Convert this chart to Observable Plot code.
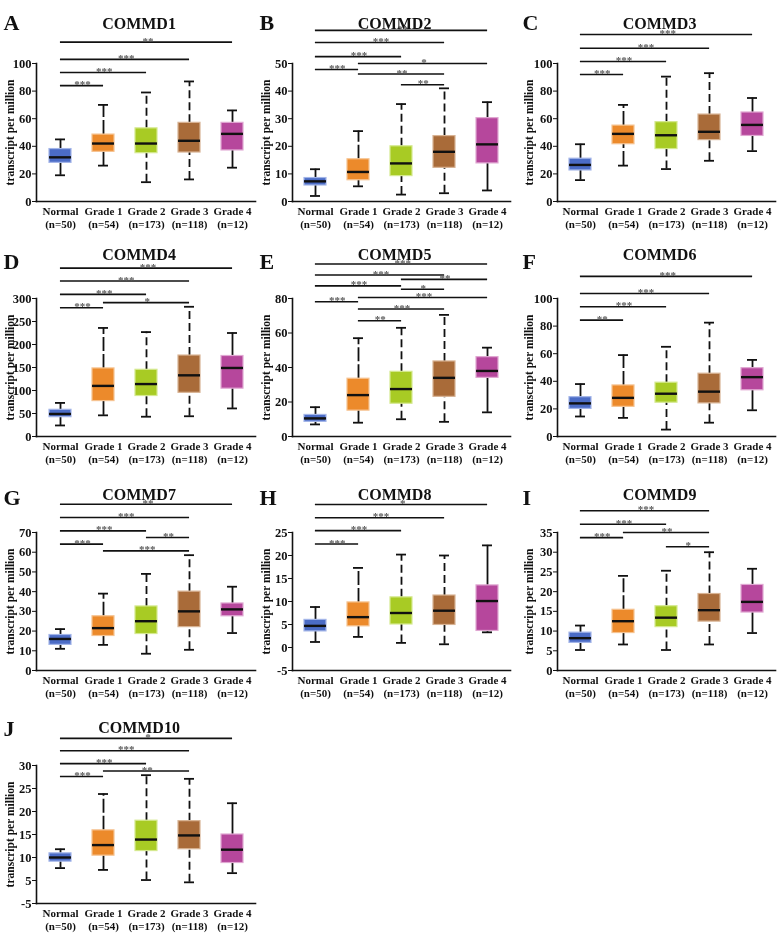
<!DOCTYPE html>
<html><head><meta charset="utf-8">
<script src="https://cdn.jsdelivr.net/npm/d3@7"></script>
<script src="https://cdn.jsdelivr.net/npm/@observablehq/plot@0.6"></script>
<style>
body{margin:0;background:#fff;}
#fig{position:relative;width:778px;height:934px;overflow:hidden;background:#fff;}
.panel{position:absolute;will-change:transform;}
</style></head><body><div id="fig"></div>
<script>
// ---------- data ----------
const groups = ["Normal", "Grade 1", "Grade 2", "Grade 3", "Grade 4"];
const groupN = ["(n=50)", "(n=54)", "(n=173)", "(n=118)", "(n=12)"];
const genes = ["COMMD1","COMMD2","COMMD3","COMMD4","COMMD5","COMMD6","COMMD7","COMMD8","COMMD9","COMMD10"];
const letters = ["A","B","C","D","E","F","G","H","I","J"];

// [min, q1, median, q3, max] per group
const COMMD1 = [[19,28,32,38,45],[26,36,42,48.5,70],[14,35,42,53,79],[16,35.5,44,57,87],[24.5,37,49,57,66]];
const COMMD2 = [[2,5.8,7.3,8.5,11.7],[5.5,7.7,10.7,15.3,25.5],[2.5,9.2,13.8,20,35.3],[3,12.2,18,23.7,41],[4,13.8,20.7,30.2,36]];
const COMMD3 = [[15.5,22.5,26.5,31,41.5],[26,41.5,49,55,70],[23.5,38,48,57.5,90.5],[29.5,44.5,50.5,63,93],[36.5,47.5,55.5,64.5,75]];
const COMMD4 = [[24,42,49,58,73],[46,77,110,148,236],[43,88,114,145,227],[44,95,133,176,282],[61,104,149,175,225]];
const COMMD5 = [[7,8.5,10.5,12.5,17],[8,15,24,33.5,57],[10,19,27.5,37.5,63],[8.5,23,34,43.5,70.5],[14,34,38,46,51.5]];
const COMMD6 = [[14.5,20,24,28.5,38],[13.5,21.5,28,37,59],[5,24.5,31,39,65],[10,24,32.5,45.5,82.5],[19,33.5,43,49.5,55.5]];
const COMMD7 = [[11,13,16,18,21],[13,17.5,21.5,27.5,39],[8.5,18.5,25,32.5,49],[10.5,22,30,40,58.5],[19,27.5,31,34,42.5]];
const COMMD8 = [[1.2,3.5,4.7,6,8.8],[2.3,4.6,6.6,9.8,17.3],[1,5,7.5,10.9,20.2],[0.7,4.9,8,11.3,20],[3.3,3.6,10.1,13.5,22.2]];
const COMMD9 = [[5.2,7,8.2,9.6,11.4],[6.6,9.5,12.5,15.4,24],[5.2,11,13.4,16.3,25.3],[6.6,12.4,15.3,19.4,30],[9.5,14.7,17.4,21.7,25.8]];
const COMMD10 = [[7.7,9.1,10,10.9,11.8],[7.3,10.4,12.7,15.9,23.8],[5.1,11.4,13.9,18,27.9],[4.6,11.8,14.8,17.9,27.1],[6.6,8.8,11.7,15,21.8]];

// significance comparisons: [from, to, level (data units), label]
const COMMD1_sig = [["Normal","Grade 1",84,"***"],["Normal","Grade 2",93.5,"***"],["Normal","Grade 3",103,"***"],["Normal","Grade 4",115.5,"**"]];
const COMMD2_sig = [["Normal","Grade 4",62,"**"],["Normal","Grade 3",57.6,"***"],["Normal","Grade 2",52.5,"***"],["Grade 1","Grade 4",50,"*"],["Normal","Grade 1",47.8,"***"],["Grade 1","Grade 3",46.2,"**"],["Grade 2","Grade 3",42.3,"**"]];
const COMMD3_sig = [["Normal","Grade 4",121,"***"],["Normal","Grade 3",111,"***"],["Normal","Grade 2",101.5,"***"],["Normal","Grade 1",92,"***"]];
const COMMD4_sig = [["Normal","Grade 4",366,"***"],["Normal","Grade 3",338,"***"],["Normal","Grade 2",309,"***"],["Grade 1","Grade 3",291,"*"],["Normal","Grade 1",280,"***"]];
const COMMD5_sig = [["Normal","Grade 4",100,"***"],["Normal","Grade 3",93.6,"***"],["Grade 2","Grade 4",91.1,"**"],["Normal","Grade 2",87.3,"***"],["Grade 2","Grade 3",85.4,"*"],["Grade 1","Grade 4",80.6,"***"],["Normal","Grade 1",78.1,"***"],["Grade 1","Grade 3",73.9,"***"],["Grade 1","Grade 2",67.1,"**"]];
const COMMD6_sig = [["Normal","Grade 4",116,"***"],["Normal","Grade 3",103.6,"***"],["Normal","Grade 2",94,"***"],["Normal","Grade 1",84.3,"**"]];
const COMMD7_sig = [["Normal","Grade 4",84.3,"**"],["Normal","Grade 3",77.6,"***"],["Normal","Grade 2",70.8,"***"],["Grade 2","Grade 3",67.5,"**"],["Normal","Grade 1",64.1,"***"],["Grade 1","Grade 3",60.7,"***"]];
const COMMD8_sig = [["Normal","Grade 4",31.1,"*"],["Normal","Grade 3",28.2,"***"],["Normal","Grade 2",25.4,"***"],["Normal","Grade 1",22.5,"***"]];
const COMMD9_sig = [["Normal","Grade 3",40.5,"***"],["Normal","Grade 2",37.1,"***"],["Grade 1","Grade 3",35,"**"],["Normal","Grade 1",33.7,"***"],["Grade 2","Grade 3",31.4,"*"]];
const COMMD10_sig = [["Normal","Grade 4",35.9,"*"],["Normal","Grade 3",33.2,"***"],["Normal","Grade 2",30.4,"***"],["Grade 1","Grade 3",28.8,"**"],["Normal","Grade 1",27.6,"***"]];

// y ticks
const COMMD1_ticks = [0,20,40,60,80,100];
const COMMD2_ticks = [0,10,20,30,40,50];
const COMMD3_ticks = [0,20,40,60,80,100];
const COMMD4_ticks = [0,50,100,150,200,250,300];
const COMMD5_ticks = [0,20,40,60,80];
const COMMD6_ticks = [0,20,40,60,80,100];
const COMMD7_ticks = [0,10,20,30,40,50,60,70];
const COMMD8_ticks = [-5,0,5,10,15,20,25];
const COMMD9_ticks = [0,5,10,15,20,25,30,35];
const COMMD10_ticks = [0,5,10,15,20,25,30];
const COMMD10_tickLabels = ["-5","5","10","15","20","25","30"];

const yLabel = "transcript per million";

// ---------- styling ----------
const fills   = ["#4b6cc6", "#ec8a2b", "#a8cb24", "#a96b39", "#b6479c"];
const strokes = ["#a3b5e8", "#f6c391", "#d5e98f", "#d8b394", "#e0a7d2"];
const dashes  = [null, "14,3", "8,4", "8,4", null];

const statsList = [COMMD1,COMMD2,COMMD3,COMMD4,COMMD5,COMMD6,COMMD7,COMMD8,COMMD9,COMMD10];
const sigList = [COMMD1_sig,COMMD2_sig,COMMD3_sig,COMMD4_sig,COMMD5_sig,COMMD6_sig,COMMD7_sig,COMMD8_sig,COMMD9_sig,COMMD10_sig];
const tickList = [COMMD1_ticks,COMMD2_ticks,COMMD3_ticks,COMMD4_ticks,COMMD5_ticks,COMMD6_ticks,COMMD7_ticks,COMMD8_ticks,COMMD9_ticks,COMMD10_ticks];
const tickLabelList = [null,null,null,null,null,null,null,null,null,COMMD10_tickLabels];

const colLeft = [0, 256, 519];
const colML = [36, 36, 38];
const colMR = [4, 5, 3];
const rowTop = [-1, 234, 468, 701];
const rowTitleDy = [-46, -50, -44, -44];
const rowLetterDy = [-49, -45, -43, -45];
const PW = 259, PH = 234, MT = 64, MB = 32;
const FONT = "'Liberation Serif', 'Times New Roman', serif";

const fig = document.getElementById("fig");

statsList.forEach((stats, i) => {
  const col = i % 3, row = Math.floor(i / 3);
  const ml = colML[col], mr = colMR[col];
  const frameW = PW - ml - mr;
  const step = frameW / 5;
  const bw = step * 0.5;
  const rows = groups.map((g, k) => ({g, k, min: stats[k][0], q1: stats[k][1], med: stats[k][2], q3: stats[k][3], max: stats[k][4]}));
  const sig = sigList[i].map(([a, b, y, lab]) => ({a, b, y, lab}));
  const ticks = tickList[i];
  const tl = tickLabelList[i];

  const whiskers = groups.map((g, k) => Plot.ruleX([rows[k], rows[k]].map((r, j) => j === 0 ? {g: r.g, y1: r.min, y2: r.q1} : {g: r.g, y1: r.q3, y2: r.max}),
    {x: "g", y1: "y1", y2: "y2", stroke: "#111", strokeWidth: 1.8, strokeDasharray: dashes[k]}));

  const starMarks = sig.map(s => Plot.text([s], {
    x: "a", y: "y", text: "lab",
    dx: (groups.indexOf(s.b) - groups.indexOf(s.a)) * step / 2, dy: -1,
    fill: "#5a5a5a", fontSize: 11, fontWeight: "bold"
  }));

  const plot = Plot.plot({
    width: PW, height: PH,
    marginLeft: ml, marginRight: mr, marginTop: MT, marginBottom: MB,
    style: {fontFamily: FONT, fontWeight: "bold", fontSize: "12px", color: "#111", background: "transparent", overflow: "visible"},
    x: {domain: groups, paddingInner: 0.5, paddingOuter: 0.25, axis: null},
    y: {domain: [ticks[0], ticks[ticks.length - 1]], axis: null},
    marks: [
      Plot.ruleY(sig, {y: "y", x1: "a", x2: "b", insetLeft: bw / 2, insetRight: bw / 2, stroke: "#111", strokeWidth: 1.6}),
      ...starMarks,
      ...whiskers,
      Plot.tickY(rows, {x: "g", y: "min", insetLeft: 6, insetRight: 6, stroke: "#111", strokeWidth: 1.8}),
      Plot.tickY(rows, {x: "g", y: "max", insetLeft: 6, insetRight: 6, stroke: "#111", strokeWidth: 1.8}),
      Plot.rectY(rows, {x: "g", y1: "q1", y2: "q3", fill: (d) => fills[d.k], stroke: (d) => strokes[d.k], strokeWidth: 1.2}),
      Plot.tickY(rows, {x: "g", y: "med", stroke: "#111", strokeWidth: 2.4}),
      Plot.axisY({ticks, tickSize: 4, tickPadding: 1, fontSize: 12.5, fontWeight: "bold", label: null,
        tickFormat: tl ? (d) => tl[ticks.indexOf(d)] : (d) => String(d)}),
      Plot.axisX({tickSize: 0, tickPadding: 4, fontSize: 11, fontWeight: "bold", lineHeight: 1.18, label: null,
        tickFormat: (d) => d + "\n" + groupN[groups.indexOf(d)]}),
      Plot.frame({anchor: "left", stroke: "#111", strokeWidth: 1.6}),
      Plot.frame({anchor: "bottom", stroke: "#111", strokeWidth: 1.6}),
      Plot.text([yLabel], {frameAnchor: "left", textAnchor: "middle", rotate: -90, dx: col === 2 ? -28 : -26, fontSize: 11.5, fontWeight: "bold", fill: "#111"}),
      Plot.text([genes[i]], {frameAnchor: "top", textAnchor: "middle", dx: -7, dy: rowTitleDy[row], fontSize: 16, fontWeight: "bold", fill: "#111"}),
      Plot.text([letters[i]], {frameAnchor: "top-left", textAnchor: "start", dx: -ml + 3, dy: rowLetterDy[row], fontSize: 22, fontWeight: "bold", fill: "#111"})
    ]
  });
  const div = document.createElement("div");
  div.className = "panel";
  div.style.left = colLeft[col] + "px";
  div.style.top = rowTop[row] + "px";
  div.appendChild(plot);
  fig.appendChild(div);
});
</script>
</body></html>
